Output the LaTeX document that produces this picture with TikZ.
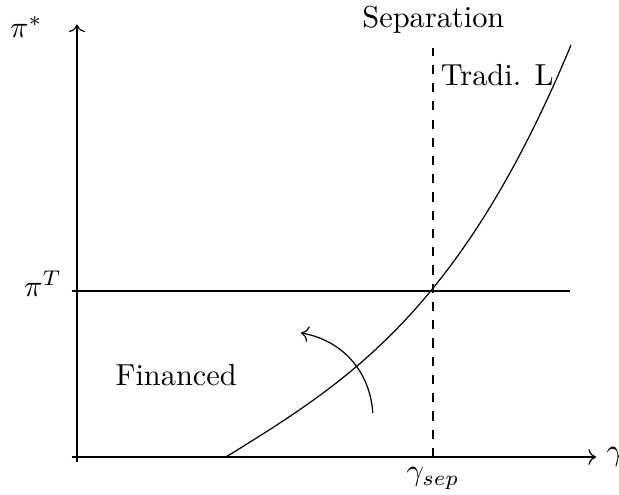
\documentclass[tikz,border=0pt]{standalone}
\usetikzlibrary{arrows.meta}
\begin{document}
\begin{tikzpicture}[
  lbl/.style={inner sep=0pt},
  axis/.style={->},
]
\useasboundingbox (-0.890,-0.428) rectangle (6.266,5.283);
% axes
\coordinate (xs) at (-0.06,0);
\coordinate (xe) at (6,0);
\coordinate (ys) at (0,-0.06);
\coordinate (ye) at (0,5);
\draw[axis] (xs) -- (xe);
\draw[axis] (ys) -- (ye);
% pi^T line
\coordinate (tL) at (-0.06,1.919);
\coordinate (tR) at (5.70,1.919);
\draw (tL) -- (tR);
% separation dashed line
\coordinate (dB) at (4.116,0);
\coordinate (dT) at (4.116,4.73);
\draw[dashed] (dB) -- (dT);
% curve
\draw[domain=0.001:3.988, samples=80, smooth, variable=\t]
  plot ({1.723+\t}, {0.62*\t + 0.031*\t^3.11});
% curved arrow
\coordinate (aS) at (3.42,0.509);
\coordinate (aE) at (2.59,1.434);
\draw[->] (aS) to[bend right=38] (aE);
% labels
\node[lbl, anchor=base east] (pistar) at (-0.39,4.85) {$\pi^*$};
\node[lbl, anchor=base east] (piT) at (-0.17,1.85) {$\pi^T$};
\node[lbl, anchor=base] (sep) at (4.12,4.96) {Separation};
\node[lbl, anchor=base west] (trad) at (4.20,4.30) {Tradi. L};
\node[lbl, anchor=base west] (fin) at (0.44,0.83) {Financed};
\node[below] (gsep) at (dB) {$\gamma_{sep}$};
\node[right] (g) at (xe) {$\gamma$};
\end{tikzpicture}
\end{document}
